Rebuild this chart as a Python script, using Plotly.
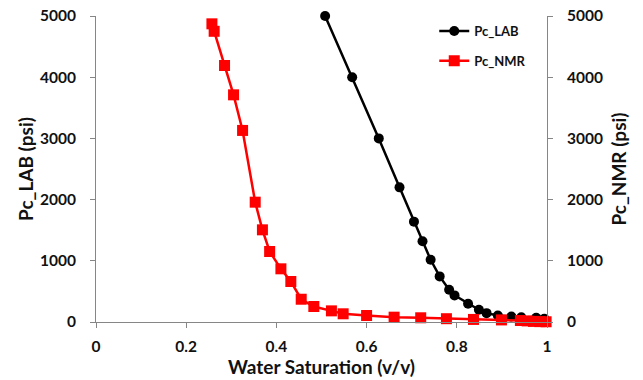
import plotly.graph_objects as go

# Lab-measured capillary pressure curve
sw_lab = [0.508, 0.568, 0.627, 0.673, 0.705, 0.724, 0.742, 0.762, 0.783, 0.795,
          0.825, 0.849, 0.866, 0.891, 0.921, 0.943, 0.976, 0.994]
pc_lab = [5000, 4000, 3000, 2200, 1640, 1320, 1016, 745, 528, 435,
          298, 200, 145, 106, 90, 79, 69, 52]

# NMR-derived capillary pressure curve
sw_nmr = [0.257, 0.262, 0.285, 0.305, 0.325, 0.353, 0.369, 0.385, 0.410, 0.432,
          0.455, 0.483, 0.522, 0.548, 0.600, 0.661, 0.720, 0.777, 0.837, 0.899,
          0.941, 0.956, 0.970, 0.984, 0.998]
pc_nmr = [4872, 4750, 4191, 3712, 3130, 1958, 1506, 1152, 869, 662,
          372, 253, 182, 134, 106, 79, 69, 54, 42, 34,
          24, 18, 10, 6, 4]

font_family = "Lato, 'Open Sans', Arial, sans-serif"
axis_color = "#868686"
text_color = "#111111"

fig = go.Figure()
fig.add_trace(go.Scatter(
    x=sw_lab, y=pc_lab, name="Pc_LAB", mode="lines+markers",
    line=dict(color="black", width=2.5),
    marker=dict(symbol="circle", size=10, color="black"),
    cliponaxis=False, legendgroup="lab",
))
fig.add_trace(go.Scatter(
    x=sw_nmr, y=pc_nmr, name="Pc_NMR", mode="lines+markers", yaxis="y2",
    line=dict(color="#ff0000", width=2.5),
    marker=dict(symbol="square", size=11, color="#ff0000"),
    cliponaxis=False, legendgroup="nmr",
))

axis_common = dict(
    showgrid=False, zeroline=False, showline=True, linecolor=axis_color,
    linewidth=1, ticks="outside", tickcolor=axis_color, ticklen=5,
    automargin=False,
    tickfont=dict(family=font_family, size=15.5, color=text_color, weight="bold"),
)
title_font = dict(family=font_family, size=19, color=text_color, weight="bold")

fig.update_layout(
    width=643, height=380,
    margin=dict(l=96, r=96, t=16, b=58, autoexpand=False),
    paper_bgcolor="white", plot_bgcolor="white",
    font=dict(family=font_family, color=text_color),
    showlegend=True,
    legend=dict(
        x=0.75, y=1.0, xanchor="left", yanchor="top",
        bgcolor="rgba(0,0,0,0)", tracegroupgap=10,
        font=dict(family=font_family, size=13, color=text_color, weight="bold"),
    ),
    xaxis=dict(
        range=[0, 1], dtick=0.2, tick0=0,
        title=dict(text="Water Saturation (v/v)", standoff=6, font=title_font),
        ticklabelstandoff=5,
        **axis_common,
    ),
    yaxis=dict(
        range=[0, 5000], dtick=1000,
        title=dict(text="Pc_LAB (psi)", standoff=1, font=title_font),
        ticklabelstandoff=11,
        **axis_common,
    ),
    yaxis2=dict(
        range=[0, 5000], dtick=1000, overlaying="y", side="right",
        title=dict(text="Pc_NMR (psi)", standoff=10, font=title_font),
        ticklabelstandoff=11,
        **axis_common,
    ),
)

fig.write_html("out.html")
